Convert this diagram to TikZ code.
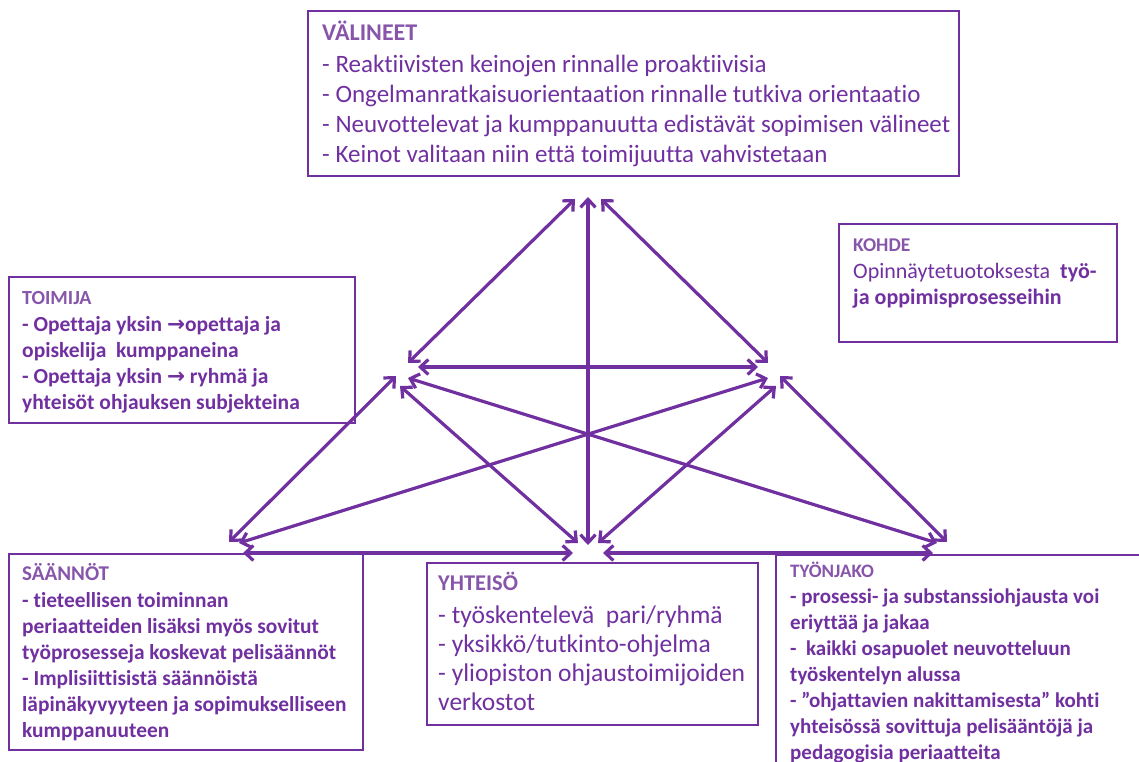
\documentclass[tikz,border=0pt]{standalone}
\usepackage{fontspec}
\setmainfont{Carlito}[Ligatures=NoCommon]
\newfontfamily\arrowfont{DejaVu Sans}
\usetikzlibrary{arrows.meta}
\definecolor{vio}{RGB}{112,48,160}
\definecolor{hdr}{RGB}{135,85,170}
\tikzset{
  box/.style={draw=vio, line width=2pt},
  arr/.style={draw=vio, line width=3.2pt, {Straight Barb[length=8pt,width=15pt]}-{Straight Barb[length=8pt,width=15pt]}},
  hd/.style={text=hdr, anchor=base west, inner sep=0pt},
  bd/.style={text=vio, anchor=base west, inner sep=0pt, align=left},
}
\begin{document}
\begin{tikzpicture}[x=1pt,y=-1pt]
\useasboundingbox (0,0) rectangle (1139,762);
\clip (0,0) rectangle (1139,762);
% boxes
\draw[box] (308,11) rectangle (959,176);
\draw[box] (839,224) rectangle (1117,342);
\draw[box] (9,277) rectangle (355,423);
\draw[box] (9,554) rectangle (363,750);
\draw[box] (427,563) rectangle (758,725);
\draw[box] (1139,555) -- (776,555) -- (776,762);
% texts (body nodes: anchor at the baseline of their last line)
\node[hd, font=\fontsize{24}{26}\selectfont\bfseries] (vh) at (322,41) {VÄLINEET};
\node[bd, font=\fontsize{25}{30}\selectfont] (vb) at (322,163) {- Reaktiivisten keinojen rinnalle proaktiivisia\\- Ongelmanratkaisuorientaation rinnalle tutkiva orientaatio\\- Neuvottelevat ja kumppanuutta edistävät sopimisen välineet\\- Keinot valitaan niin että toimijuutta vahvistetaan};
\node[hd, font=\fontsize{19.5}{22}\selectfont\bfseries] (kh) at (853,251) {KOHDE};
\node[bd, font=\fontsize{22}{26}\selectfont] (kb) at (853,304) {Opinnäytetuotoksesta \ \textbf{työ-}\\\textbf{ja oppimisprosesseihin}};
\node[hd, font=\fontsize{20}{22}\selectfont\bfseries] (th) at (22,304) {TOIMIJA};
\node[bd, font=\fontsize{21.5}{25.7}\selectfont\bfseries] (tb) at (22,409) {- Opettaja yksin {\arrowfont\bfseries →}opettaja ja\\opiskelija \ kumppaneina\\- Opettaja yksin {\arrowfont\bfseries →} ryhmä ja\\yhteisöt ohjauksen subjekteina};
\node[hd, font=\fontsize{21}{22}\selectfont\bfseries] (sh) at (22,580) {SÄÄNNÖT};
\node[bd, font=\fontsize{21.4}{26}\selectfont\bfseries] (sb) at (22,737) {- tieteellisen toiminnan\\periaatteiden lisäksi myös sovitut\\työprosesseja koskevat pelisäännöt\\- Implisiittisistä säännöistä\\läpinäkyvyyteen ja sopimukselliseen\\kumppanuuteen};
\node[hd, font=\fontsize{22.5}{24}\selectfont\bfseries] (yh) at (438,590) {YHTEISÖ};
\node[bd, font=\fontsize{25.5}{29}\selectfont] (yb) at (438,710) {- työskentelevä \ pari/ryhmä\\- yksikkö/tutkinto-ohjelma\\- yliopiston ohjaustoimijoiden\\verkostot};
\node[hd, font=\fontsize{19}{20}\selectfont\bfseries] (jh) at (790,577) {TYÖNJAKO};
\node[bd, font=\fontsize{21}{26}\selectfont\bfseries] (jb) at (790,759) {- prosessi- ja substanssiohjausta voi\\eriyttää ja jakaa\\- \ kaikki osapuolet neuvotteluun\\työskentelyn alussa\\- ”ohjattavien nakittamisesta” kohti\\yhteisössä sovittuja pelisääntöjä ja\\pedagogisia periaatteita};
% arrow end points
\coordinate (t1) at (575,199); \coordinate (l1) at (408,363);
\coordinate (t2) at (588,197); \coordinate (b2) at (588,545);
\coordinate (t3) at (601,199); \coordinate (r3) at (768,363);
\coordinate (l4) at (418,367); \coordinate (r4) at (758,367);
\coordinate (l5) at (396,376); \coordinate (bl5) at (229,542);
\coordinate (l6) at (400,386); \coordinate (bm6) at (578,543);
\coordinate (l7) at (408,378); \coordinate (br7) at (937,543);
\coordinate (r8) at (768,378); \coordinate (bl8) at (239,543);
\coordinate (r9) at (776,386); \coordinate (bm9) at (598,543);
\coordinate (r10) at (780,376); \coordinate (br10) at (947,542);
\coordinate (bl11) at (243,553); \coordinate (bm11) at (573,553);
\coordinate (bm12) at (603,553); \coordinate (br12) at (933,553);
% arrows
\draw[arr] (t1) -- (l1);
\draw[arr] (t2) -- (b2);
\draw[arr] (t3) -- (r3);
\draw[arr] (l4) -- (r4);
\draw[arr] (l5) -- (bl5);
\draw[arr] (l6) -- (bm6);
\draw[arr] (l7) -- (br7);
\draw[arr] (r8) -- (bl8);
\draw[arr] (r9) -- (bm9);
\draw[arr] (r10) -- (br10);
\draw[arr] (bl11) -- (bm11);
\draw[arr] (bm12) -- (br12);
\end{tikzpicture}
\end{document}
